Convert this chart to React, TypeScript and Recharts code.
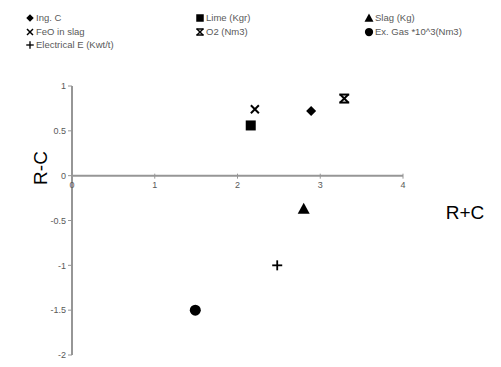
import React from 'react';
import { ScatterChart, Scatter, XAxis, YAxis, ReferenceLine, ReferenceDot } from 'recharts';

const seriesNames = ['Ing. C', 'Lime (Kgr)', 'Slag (Kg)', 'FeO in slag', 'O2 (Nm3)', 'Ex. Gas *10^3(Nm3)', 'Electrical E (Kwt/t)'];
const rcSum = [2.89, 2.16, 2.8, 2.21, 3.29, 1.49, 2.48];
const rcDiff = [0.72, 0.56, -0.37, 0.74, 0.86, -1.5, -1.0];
const markerKinds = ['diamond', 'square', 'triangle', 'x', 'hourglass', 'circle', 'plus'];
const xTicks = [0, 1, 2, 3, 4];
const yTicks = [-2, -1.5, -1, -0.5, 0, 0.5, 1];

const FONT = '"Liberation Sans", Arial, sans-serif';
const AXIS = '#969696';
const TXT = '#595959';

function Marker({ kind, cx, cy }: { kind: string; cx: number; cy: number }) {
  const c = '#000';
  switch (kind) {
    case 'diamond':
      return <path d={`M${cx},${cy - 5}L${cx + 5},${cy}L${cx},${cy + 5}L${cx - 5},${cy}Z`} fill={c} />;
    case 'square':
      return <rect x={cx - 5} y={cy - 5} width={10} height={10} fill={c} />;
    case 'triangle':
      return <path d={`M${cx},${cy - 6}L${cx + 6},${cy + 5}L${cx - 6},${cy + 5}Z`} fill={c} />;
    case 'x':
      return (
        <g stroke={c} strokeWidth={2}>
          <line x1={cx - 4} y1={cy - 4} x2={cx + 4} y2={cy + 4} />
          <line x1={cx - 4} y1={cy + 4} x2={cx + 4} y2={cy - 4} />
        </g>
      );
    case 'hourglass':
      return (
        <g stroke={c} strokeWidth={2}>
          <line x1={cx - 4} y1={cy - 4} x2={cx + 4} y2={cy + 4} />
          <line x1={cx - 4} y1={cy + 4} x2={cx + 4} y2={cy - 4} />
          <line x1={cx - 5} y1={cy - 4} x2={cx + 5} y2={cy - 4} />
          <line x1={cx - 5} y1={cy + 4} x2={cx + 5} y2={cy + 4} />
        </g>
      );
    case 'circle':
      return <circle cx={cx} cy={cy} r={5.5} fill={c} />;
    case 'plus':
    default:
      return (
        <g stroke={c} strokeWidth={1.8}>
          <line x1={cx - 5} y1={cy} x2={cx + 5} y2={cy} />
          <line x1={cx} y1={cy - 5} x2={cx} y2={cy + 5} />
        </g>
      );
  }
}

const legendCols = [30, 200, 369];
const legendRows = [18, 32, 45];

function LegendOverlay() {
  return (
    <svg width={501} height={60} style={{ position: 'absolute', left: 0, top: 0 }}>
      {seriesNames.map((n, i) => {
        const x = legendCols[i % 3];
        const y = legendRows[Math.floor(i / 3)];
        return (
          <g key={n}>
            <g transform={`translate(${x},${y}) scale(0.75) translate(${-x},${-y})`}>
              <Marker kind={markerKinds[i]} cx={x} cy={y} />
            </g>
            <text x={x + 6} y={y} dy="0.35em" fontSize={9.5} fill={TXT} fontFamily={FONT}>{n}</text>
          </g>
        );
      })}
    </svg>
  );
}

export default function App() {
  return (
    <div style={{ position: 'absolute', left: 0, top: 0, width: 501, height: 367, background: '#fff' }}>
      <ScatterChart width={501} height={367} margin={{ top: 86, right: 98, bottom: 12, left: 32 }}>
        <XAxis type="number" dataKey="x" domain={[0, 4]} hide />
        <YAxis
          type="number"
          dataKey="y"
          domain={[-2, 1]}
          ticks={yTicks}
          width={40}
          axisLine={{ stroke: AXIS, strokeWidth: 2 }}
          tickLine={{ stroke: AXIS }}
          tickSize={4}
          tick={{ fontSize: 9, fill: TXT, fontFamily: FONT }}
          label={(p: any) => {
            const vb = p.viewBox;
            const x = vb.x + 8;
            const y = vb.y + 82;
            return (
              <text x={x} y={y} transform={`rotate(-90 ${x} ${y})`} textAnchor="middle" dominantBaseline="central" fontSize={19} fill="#000" fontFamily={FONT}>R-C</text>
            );
          }}
        />
        <ReferenceLine
          y={0}
          stroke={AXIS}
          strokeWidth={2}
          label={(p: any) => {
            const vb = p.viewBox;
            return (
              <text x={vb.x + vb.width + 62} y={vb.y + 37} textAnchor="middle" dominantBaseline="central" fontSize={19} fill="#000" fontFamily={FONT}>R+C</text>
            );
          }}
        />
        {xTicks.map((t) => (
          <ReferenceDot
            key={'xt' + t}
            x={t}
            y={0}
            ifOverflow="visible"
            shape={(p: any) => (
              <g>
                {t > 0 && <line x1={p.cx} y1={p.cy - 2} x2={p.cx} y2={p.cy + 3} stroke={AXIS} strokeWidth={1} />}
                <text x={p.cx} y={p.cy + 9} textAnchor="middle" dominantBaseline="central" fontSize={9} fill={TXT} fontFamily={FONT}>{t}</text>
              </g>
            )}
          />
        ))}
        {seriesNames.map((n, i) => (
          <Scatter
            key={n}
            name={n}
            data={[{ x: rcSum[i], y: rcDiff[i] }]}
            isAnimationActive={false}
            shape={(p: any) => <Marker kind={markerKinds[i]} cx={p.cx} cy={p.cy} />}
          />
        ))}
      </ScatterChart>
      <LegendOverlay />
    </div>
  );
}
